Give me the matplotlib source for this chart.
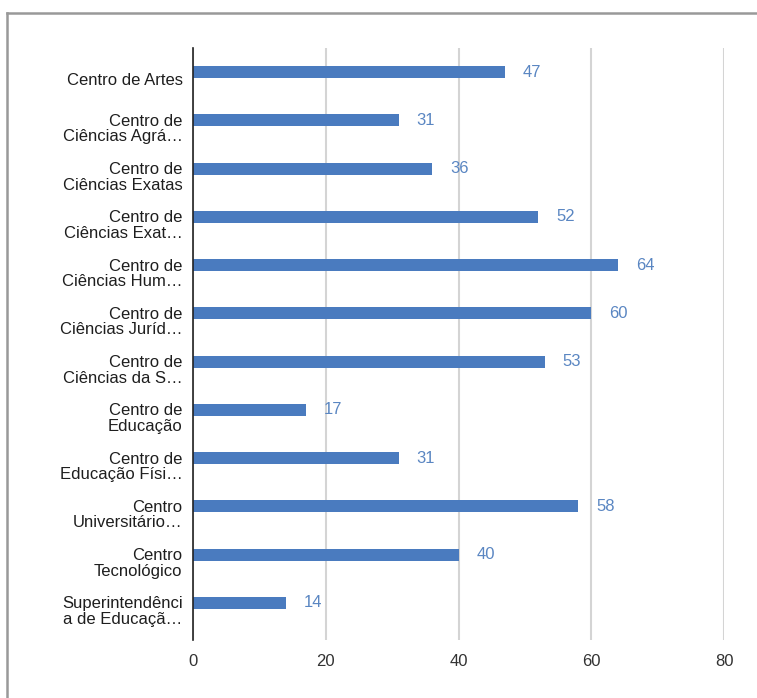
import matplotlib.pyplot as plt
from matplotlib.lines import Line2D
from matplotlib.transforms import ScaledTranslation

categories = [
    "Centro de Artes",
    "Centro de\nCiências Agrá…",
    "Centro de\nCiências Exatas",
    "Centro de\nCiências Exat…",
    "Centro de\nCiências Hum…",
    "Centro de\nCiências Juríd…",
    "Centro de\nCiências da S…",
    "Centro de\nEducação",
    "Centro de\nEducação Físi…",
    "Centro\nUniversitário…",
    "Centro\nTecnológico",
    "Superintendênci\na de Educaçã…",
]
values = [47, 31, 36, 52, 64, 60, 53, 17, 31, 58, 40, 14]
xticks = [0, 20, 40, 60, 80]

plt.rcParams['font.family'] = ['Liberation Sans', 'DejaVu Sans']

bar_color = "#4a7bbf"

fig = plt.figure(figsize=(7.57, 6.98), dpi=100)
ax = fig.add_axes([193 / 757, 1 - 640 / 698, (724 - 193) / 757, (640 - 48) / 698])

ypos = list(range(len(categories)))
ax.barh(ypos, values, height=0.25, color=bar_color, zorder=3)
for y, v in zip(ypos, values):
    ax.text(v + 2.7, y, str(v), va="center", ha="left", fontsize=12,
            color="#5a86c2", zorder=4)

ax.set_xlim(0, 80)
ax.set_ylim(11.77, -0.5)
ax.set_xticks(xticks)
ax.set_yticks(ypos)
ax.set_yticklabels(categories, fontsize=12, color="#1e1e1e", linespacing=1.05)
ax.tick_params(axis="x", labelsize=12, colors="#333333", length=0, pad=10)
ax.tick_params(axis="y", length=0, pad=7.5)

# category labels sit a little below their bars
shift = ScaledTranslation(0, -7 / 100, fig.dpi_scale_trans)
for lab in ax.get_yticklabels():
    lab.set_transform(lab.get_transform() + shift)

ax.grid(axis="x", color="#d4d4d4", linewidth=1.5, zorder=0)
for side in ["top", "right", "bottom"]:
    ax.spines[side].set_visible(False)
ax.spines["left"].set_color("#222222")
ax.spines["left"].set_linewidth(1.2)
ax.spines["left"].set_zorder(5)

# frame lines along the top and left edge of the panel
fig.add_artist(Line2D([7 / 757, 7 / 757], [0, 1 - 13 / 698], color="#999999", linewidth=1.8))
fig.add_artist(Line2D([7 / 757, 1], [1 - 13 / 698, 1 - 13 / 698], color="#999999", linewidth=1.8))

fig.savefig("out.png", dpi=100)
